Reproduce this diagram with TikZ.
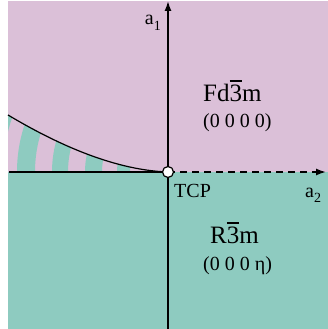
\documentclass[tikz,border=0pt]{standalone}
\usepackage{fontspec}
\setmainfont{Liberation Serif}
\usetikzlibrary{arrows.meta}
\definecolor{phasepink}{RGB}{219,192,216}
\definecolor{phaseteal}{RGB}{142,203,192}
\newcommand{\bardigit}[1]{\rlap{\rule[0.78em]{0.5em}{0.05em}}#1}
\newcommand{\axsub}[1]{\raisebox{-0.28em}{\fontsize{14}{14}\selectfont #1}}

\begin{document}
\begin{tikzpicture}[x=1pt, y=-1pt,
  axisline/.style={line width=1.6pt},
  axis/.style={axisline, -{Latex[length=10pt,width=7pt]}},
  phase/.style={font=\fontsize{25}{25}\selectfont, anchor=base west, inner sep=0pt},
  order/.style={font=\fontsize{20}{20}\selectfont, anchor=base west, inner sep=0pt},
  lbl/.style={font=\fontsize{20}{20}\selectfont, inner sep=0pt}
]
  \useasboundingbox (0,0) rectangle (328,329);
  % phase fields
  \fill[phasepink] (8,1) rectangle (328,172);
  \fill[phaseteal] (8,172) rectangle (328,329);

  \coordinate (tcp) at (168,172);
  \coordinate (west) at (9,172);
  \coordinate (east) at (326,172);
  \coordinate (south) at (168,329);
  \coordinate (north) at (168,1);
  \coordinate (lineend) at (8,115);

  % two-phase wedge, striped
  \begin{scope}
    \clip (lineend) .. controls (50,140) and (110,170) .. (tcp) -- (8,172) -- cycle;
    \fill[phaseteal, even odd rule]
      (tcp) circle[radius=185pt] circle[radius=165pt]
      (tcp) circle[radius=151pt] circle[radius=133pt]
      (tcp) circle[radius=116pt] circle[radius=100pt]
      (tcp) circle[radius=83pt] circle[radius=66pt]
      (tcp) circle[radius=51pt] circle[radius=38pt];
  \end{scope}

  % phase boundary and axes
  \draw[line width=1.2pt] (lineend) .. controls (50,140) and (110,170) .. (tcp);
  \draw[axisline] (west) -- (tcp);
  \draw[axis, dash pattern=on 7pt off 5pt] (tcp) -- (east);
  \draw[axis] (south) -- (north);
  \node[circle, draw, fill=white, line width=1.2pt, minimum size=11pt, inner sep=0pt] (tcpdot) at (tcp) {};

  % labels
  \node[lbl, anchor=base east] (a1) at (161,25) {a\axsub{1}};
  \node[lbl, anchor=base west] (a2) at (305,197) {a\axsub{2}};
  \node[lbl, anchor=base west] (tcplbl) at (174,197) {TCP};
  \node[phase] (cubic) at (203,101) {Fd\bardigit{3}m};
  \node[order] (cubicorder) at (203,127) {(0 0 0 0)};
  \node[phase] (rhomb) at (210,243) {R\bardigit{3}m};
  \node[order] (rhomborder) at (203,270) {(0 0 0 η)};
\end{tikzpicture}
\end{document}
